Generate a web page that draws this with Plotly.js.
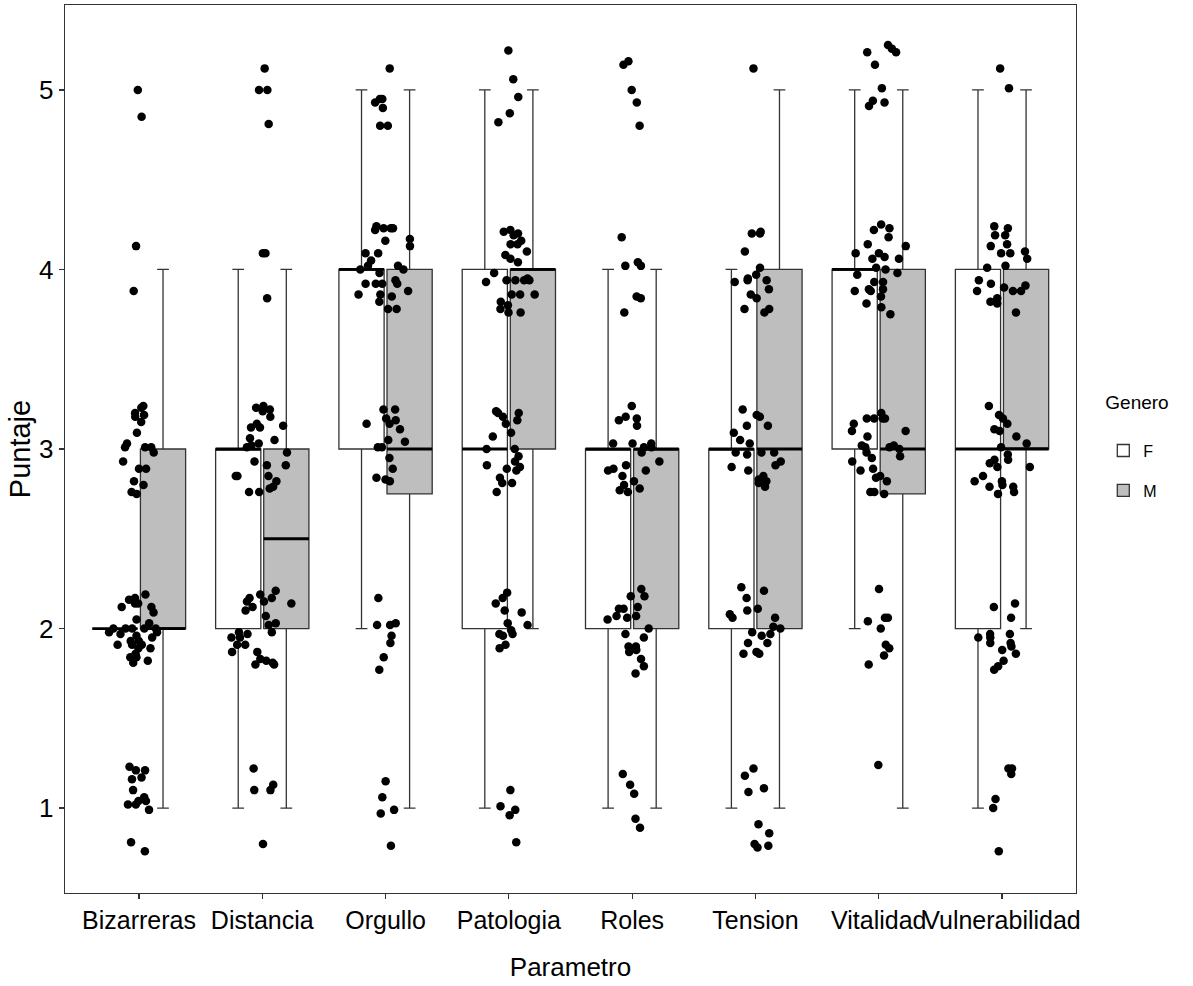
<!DOCTYPE html>
<html>
<head>
<meta charset="utf-8">
<script src="https://cdn.plot.ly/plotly-3.0.1.min.js"></script>
<style>html,body{margin:0;padding:0;background:#fff;}#chart{width:1193px;height:986px;}</style>
</head>
<body>
<div id="chart"></div>
<script>
// ---- data ----
const categories = ['Bizarreras','Distancia','Orgullo','Patologia','Roles','Tension','Vitalidad','Vulnerabilidad'];

// box statistics, Genero F
const fQ1     = [2, 2, 3, 2, 2, 2, 3, 2];
const fMedian = [2, 3, 4, 3, 3, 3, 4, 3];
const fQ3     = [2, 3, 4, 4, 3, 3, 4, 4];
const fLower  = [2, 1, 2, 1, 1, 1, 2, 1];
const fUpper  = [2, 4, 5, 5, 4, 4, 5, 5];

// box statistics, Genero M
const mQ1     = [2, 2, 2.75, 3, 2, 2, 2.75, 3];
const mMedian = [2, 2.5, 3, 4, 3, 3, 3, 3];
const mQ3     = [3, 3, 4, 4, 3, 4, 4, 4];
const mLower  = [1, 1, 1, 2, 1, 1, 1, 2];
const mUpper  = [4, 4, 5, 5, 4, 5, 5, 5];

// jittered observations (values as drawn)
const ptsBizarreras = [5.0, 4.85, 4.13, 3.88,
  3.23, 3.20, 3.09, 3.18, 3.24, 3.15, 3.19, 3.03, 3.01, 3.01, 2.98, 3.01, 2.93, 2.89, 2.89, 2.80, 2.82, 2.75, 2.76,
  2.19, 2.14, 2.12, 2.09, 2.16, 2.17, 2.14, 2.12, 2.00, 1.86, 1.93, 1.91, 1.89, 1.96, 2.03, 1.95, 1.89, 1.93, 1.98, 2.00, 1.84, 1.91, 2.05, 1.81, 1.82, 1.84, 1.91, 2.00, 1.98, 2.00, 2.00, 1.97,
  1.23, 1.17, 1.21, 1.10, 1.04, 0.99, 1.02, 1.04, 1.02, 1.06, 1.21, 1.16, 0.81, 0.76];
const ptsDistancia = [5.12, 5.0, 5.0, 4.81, 4.09, 4.09, 3.84,
  3.24, 3.23, 3.21, 3.22, 3.18, 3.14, 3.12, 3.12, 3.13, 3.06, 3.05, 3.02, 3.01, 3.03, 2.98, 2.93, 2.91, 2.91, 2.85, 2.82, 2.85, 2.85, 2.78, 2.76, 2.79, 2.76,
  2.21, 2.17, 2.14, 2.10, 2.12, 2.07, 2.02, 2.17, 2.15, 2.15, 2.19, 2.03, 1.97, 1.98, 1.95, 1.98, 1.95, 1.91, 1.87, 1.87, 1.82, 1.80, 1.83, 1.81, 1.80, 1.91,
  1.22, 1.10, 1.10, 1.13, 0.80];
const ptsOrgullo = [5.12, 4.95, 4.95, 4.90, 4.93, 4.80, 4.80,
  4.23, 4.24, 4.22, 4.23, 4.23, 4.17, 4.16, 4.13, 4.09, 4.09, 4.05, 4.02, 4.00, 4.00, 4.02, 3.98, 3.94, 3.92, 3.92, 3.92, 3.92, 3.88, 3.86, 3.85, 3.86, 3.82, 3.78, 3.78,
  3.22, 3.22, 3.17, 3.14, 3.16, 3.11, 3.14, 3.04, 3.05, 3.01, 3.01, 2.95, 2.89, 2.84, 2.82, 2.83,
  2.17, 2.02, 2.02, 2.03, 1.96, 1.92, 1.84, 1.77,
  1.15, 0.99, 0.97, 1.06, 0.79];
const ptsPatologia = [5.22, 5.06, 4.96, 4.87, 4.82,
  4.22, 4.20, 4.21, 4.19, 4.16, 4.14, 4.14, 4.10, 4.08, 4.06, 4.04, 3.94, 3.94, 3.95, 3.94, 3.98, 3.94, 3.93, 3.86, 3.86, 3.82, 3.80, 3.78, 3.76, 3.86, 3.76,
  3.21, 3.14, 3.07, 3.20, 3.18, 3.16, 3.20, 3.09, 3.00, 3.00, 2.96, 2.91, 2.90, 2.88, 2.93, 2.84, 2.89, 2.81, 2.81, 2.76,
  2.17, 2.20, 2.14, 2.09, 2.10, 1.97, 1.96, 1.97, 2.02, 2.03, 1.99, 1.91, 1.89,
  1.10, 1.01, 0.99, 0.96, 0.81];
const ptsRoles = [5.16, 5.14, 5.00, 4.93, 4.80,
  4.18, 4.02, 4.02, 4.04, 3.85, 3.84, 3.76,
  3.24, 3.18, 3.13, 3.17, 3.16, 3.03, 3.03, 3.03, 3.01, 2.98, 2.93, 3.01, 2.88, 2.82, 2.78, 2.76, 2.89, 2.77, 2.91, 2.88, 2.85, 2.80,
  2.22, 2.12, 2.11, 2.18, 2.18, 2.11, 2.07, 2.06, 2.05, 2.07, 2.00, 1.97, 1.95, 1.90, 1.90, 1.87, 1.83, 1.88, 1.79, 1.75,
  1.19, 1.13, 1.08, 0.94, 0.89];
const ptsTension = [5.12,
  4.21, 4.20, 4.20, 4.10, 4.01, 3.97, 3.94, 3.93, 3.95, 3.94, 3.89, 3.84, 3.78, 3.78, 3.76, 3.86,
  3.22, 3.18, 3.19, 3.13, 3.13, 3.09, 3.03, 3.05, 2.98, 2.98, 2.98, 2.97, 2.93, 2.90, 2.88, 2.85, 2.82, 2.83, 2.81, 2.79, 2.91,
  2.23, 2.21, 2.17, 2.11, 2.08, 2.06, 2.10, 2.06, 2.01, 2.00, 1.97, 1.98, 1.96, 1.92, 1.92, 1.86, 1.87, 1.86,
  1.22, 1.11, 1.09, 1.18, 0.86, 0.91, 0.78, 0.79, 0.80];
const ptsVitalidad = [5.25, 5.23, 5.21, 5.14, 5.21, 5.01, 4.94, 4.93, 4.91,
  4.25, 4.23, 4.18, 4.22, 4.13, 4.14, 4.09, 4.09, 4.07, 4.06, 4.06, 4.01, 3.97, 3.98, 4.00, 3.93, 3.88, 3.93, 3.85, 3.75, 3.89, 3.88, 3.81, 3.79, 3.89,
  3.17, 3.14, 3.17, 3.20, 3.17, 3.17, 3.10, 3.10, 3.07, 3.01, 3.00, 3.02, 3.02, 3.01, 2.98, 2.96, 2.95, 2.89, 2.84, 2.93, 2.88, 2.85, 2.82, 2.75, 2.76, 2.76,
  2.22, 2.06, 2.06, 2.00, 2.04, 1.91, 1.85, 1.89, 1.80,
  1.24];
const ptsVulnerabilidad = [5.12, 5.01,
  4.24, 4.23, 4.19, 4.19, 4.14, 4.13, 4.09, 4.10, 4.09, 4.06, 4.02, 4.01, 3.94, 3.91, 3.88, 3.88, 3.88, 3.92, 3.90, 3.84, 3.81, 3.82, 3.76,
  3.19, 3.24, 3.17, 3.14, 3.10, 3.11, 3.07, 3.01, 3.03, 2.97, 2.90, 2.90, 2.92, 2.94, 2.94, 2.85, 2.82, 2.79, 2.75, 2.82, 2.79, 2.80, 2.76,
  2.14, 2.12, 2.06, 1.97, 1.95, 1.92, 1.88, 1.90, 1.86, 1.82, 1.77, 1.79, 1.92, 1.95, 1.97,
  1.22, 1.22, 1.19, 1.05, 1.00, 0.76];

const genders = ['F', 'M'];
const yTicks = [1, 2, 3, 4, 5];

// ---- styling ----
const FONT = '"Liberation Sans", Arial, sans-serif';
const EDGE = '#333333';
const allPts = [ptsBizarreras, ptsDistancia, ptsOrgullo, ptsPatologia, ptsRoles, ptsTension, ptsVitalidad, ptsVulnerabilidad];
const flat = categories.map(() => 3);

const boxBase = {
  type: 'box', x: categories, boxpoints: false, whiskerwidth: 0.26,
  alignmentgroup: 'g', line: {color: EDGE, width: 1.3}, hoverinfo: 'skip'
};

const traces = [
  Object.assign({}, boxBase, {name: genders[0], legendgroup: 'F', offsetgroup: 'F',
    q1: fQ1, median: fMedian, q3: fQ3, lowerfence: fLower, upperfence: fUpper, fillcolor: '#FFFFFF'}),
  Object.assign({}, boxBase, {name: genders[1], legendgroup: 'M', offsetgroup: 'M',
    q1: mQ1, median: mMedian, q3: mQ3, lowerfence: mLower, upperfence: mUpper, fillcolor: '#BEBEBE'}),
  // thick median bars, sharing the slots of the boxes above
  Object.assign({}, boxBase, {name: 'medF', offsetgroup: 'F', showlegend: false,
    q1: fMedian, median: fMedian, q3: fMedian, lowerfence: fMedian, upperfence: fMedian,
    whiskerwidth: 0, fillcolor: 'rgba(0,0,0,0)', line: {color: '#000000', width: 2.8}}),
  Object.assign({}, boxBase, {name: 'medM', offsetgroup: 'M', showlegend: false,
    q1: mMedian, median: mMedian, q3: mMedian, lowerfence: mMedian, upperfence: mMedian,
    whiskerwidth: 0, fillcolor: 'rgba(0,0,0,0)', line: {color: '#000000', width: 2.8}}),
  // jittered points, centred on each category
  {type: 'box', x: categories, y: allPts, name: 'pts', showlegend: false, hoverinfo: 'skip',
    alignmentgroup: 'p',
    q1: flat, median: flat, q3: flat, lowerfence: flat, upperfence: flat,
    boxpoints: 'all', jitter: 1, pointpos: 0, width: 0.52, whiskerwidth: 0,
    fillcolor: 'rgba(0,0,0,0)', line: {color: 'rgba(0,0,0,0)', width: 0},
    marker: {color: '#000000', size: 8.5, opacity: 1, line: {width: 0}}}
];

const layout = {
  width: 1193, height: 986,
  margin: {l: 65, r: 117, t: 5, b: 93},
  paper_bgcolor: '#FFFFFF', plot_bgcolor: '#FFFFFF',
  font: {family: FONT, color: '#000000', size: 25},
  boxmode: 'group', boxgap: 0.22, boxgroupgap: 0.06,
  showlegend: true,
  legend: {x: 1.027, xanchor: 'left', y: 0.573, yanchor: 'top', traceorder: 'grouped',
    title: {text: 'Genero<br> ', font: {size: 19, family: FONT}},
    font: {size: 16, family: FONT}, bgcolor: 'rgba(0,0,0,0)', tracegroupgap: 16},
  xaxis: {type: 'category', categoryorder: 'array', categoryarray: categories, range: [-0.6, 7.6],
    showline: true, mirror: true, linecolor: EDGE, linewidth: 1.3,
    ticks: 'outside', ticklen: 5, tickwidth: 1.2, tickcolor: EDGE, tickangle: 0,
    tickfont: {size: 25, family: FONT, color: '#000000'},
    showgrid: false, zeroline: false, automargin: false, fixedrange: true,
    title: {text: 'Parametro', font: {size: 26, family: FONT}, standoff: 24}},
  yaxis: {range: [0.527, 5.473], tickmode: 'array', tickvals: yTicks, ticktext: yTicks.map(String),
    showline: true, mirror: true, linecolor: EDGE, linewidth: 1.3,
    ticks: 'outside', ticklen: 5, tickwidth: 1.2, tickcolor: EDGE,
    tickfont: {size: 26, family: FONT, color: '#000000'},
    showgrid: false, zeroline: false, automargin: false, fixedrange: true,
    title: {text: 'Puntaje', font: {size: 29, family: FONT}, standoff: 0}}
};

Plotly.newPlot('chart', traces, layout, {staticPlot: true, displayModeBar: false});
</script>
</body>
</html>
